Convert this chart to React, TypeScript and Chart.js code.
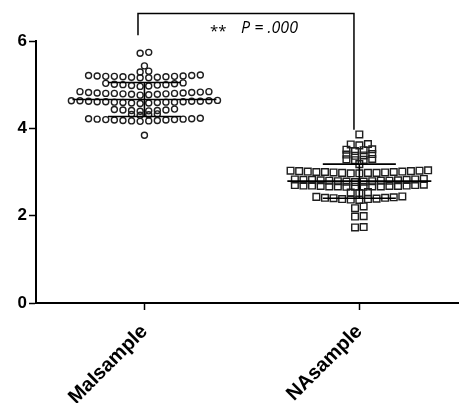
import React, { useEffect, useRef } from "react";
import { Chart, registerables } from "chart.js";

Chart.register(...registerables);

// ---- data ----
const categories = ["MaIsample", "NAsample"];
const yTicks = [0, 2, 4, 6];

const maiValues = [
  5.72, 5.74,
  5.43, 5.31, 5.29,
  5.21, 5.19, 5.18, 5.2, 5.17, 5.16, 5.19, 5.22, 5.18, 5.17, 5.2, 5.21, 5.16, 5.19,
  5.02, 5.0, 4.98, 5.03, 4.99, 5.01, 4.97, 5.04, 4.96, 5.0,
  4.84, 4.82, 4.8, 4.79, 4.78, 4.81, 4.77, 4.8, 4.79, 4.83, 4.78, 4.76, 4.81, 4.82, 4.8, 4.84,
  4.63, 4.62, 4.6, 4.61, 4.59, 4.62, 4.58, 4.63, 4.6, 4.61, 4.59, 4.64, 4.57, 4.62, 4.6, 4.61, 4.63, 4.58,
  4.42, 4.41, 4.43, 4.4, 4.42, 4.39, 4.44, 4.41,
  4.33, 4.32, 4.31, 4.3,
  4.22, 4.21, 4.19, 4.18, 4.2, 4.17, 4.23, 4.16, 4.21, 4.19, 4.22, 4.18, 4.2, 4.17,
  3.84,
];

const naValues = [
  3.86,
  3.64, 3.63, 3.61,
  3.52, 3.5, 3.48, 3.51,
  3.38, 3.4, 3.37, 3.41,
  3.28, 3.3, 3.27, 3.29,
  3.18,
  3.0, 2.98, 3.01, 2.99, 3.02, 2.97, 3.03, 2.98, 3.0, 3.01, 2.99, 3.04, 2.97, 3.02, 3.0, 2.98, 3.03,
  2.82, 2.8, 2.79, 2.83, 2.81, 2.78, 2.84, 2.8, 2.82, 2.79, 2.81, 2.83, 2.77, 2.8, 2.82, 2.78,
  2.68, 2.67, 2.69, 2.66, 2.7, 2.67, 2.68, 2.71, 2.66, 2.69, 2.67, 2.7, 2.68, 2.66, 2.69, 2.67,
  2.53, 2.54, 2.52,
  2.43, 2.41, 2.38, 2.36, 2.4, 2.42, 2.37, 2.39, 2.41, 2.44, 2.38,
  2.21, 2.17,
  1.98, 1.99,
  1.74, 1.73,
];

const means = [4.66, 2.79];
const sds = [0.39, 0.39];

const starLabel = "**";
const pLabel = "P = .000";
const bracketTop = 6.63;
const bracketLeftEnd = 6.13;
const bracketRightEnd = 3.97;

// ---- layout helpers ----
const SPREAD = 0.04; // horizontal spacing between points of one row (x units)

function swarm(values: number[], center: number) {
  const groups = new Map<number, number[]>();
  values.forEach((v) => {
    const k = Math.round(v * 10);
    if (!groups.has(k)) groups.set(k, []);
    groups.get(k)!.push(v);
  });
  const pts: { x: number; y: number }[] = [];
  groups.forEach((vs) => {
    const sorted = [...vs].sort((a, b) => a - b);
    const n = sorted.length;
    const slots = Array.from({ length: n }, (_, i) => (i - (n - 1) / 2) * SPREAD);
    slots.sort((a, b) => Math.abs(a) - Math.abs(b) || a - b);
    sorted.forEach((v, i) => pts.push({ x: center + slots[i], y: v }));
  });
  return pts;
}

const FONT = "'Liberation Sans', Arial, sans-serif";

const overlayPlugin = {
  id: "overlay",
  afterDatasetsDraw(chart: any) {
    const { ctx, scales } = chart;
    const x = scales.x;
    const y = scales.y;
    ctx.save();
    ctx.strokeStyle = "#000";
    ctx.lineWidth = 1.6;
    const seg = (x1: number, y1: number, x2: number, y2: number) => {
      ctx.beginPath();
      ctx.moveTo(x1, y1);
      ctx.lineTo(x2, y2);
      ctx.stroke();
    };
    means.forEach((m, i) => {
      const c = i + 1;
      const sd = sds[i];
      const ym = y.getPixelForValue(m);
      const yu = y.getPixelForValue(m + sd);
      const yl = y.getPixelForValue(m - sd);
      seg(x.getPixelForValue(c - 0.335), ym, x.getPixelForValue(c + 0.335), ym);
      seg(x.getPixelForValue(c - 0.17), yu, x.getPixelForValue(c + 0.17), yu);
      seg(x.getPixelForValue(c - 0.17), yl, x.getPixelForValue(c + 0.17), yl);
      seg(x.getPixelForValue(c), yu, x.getPixelForValue(c), yl);
    });

    // significance bracket
    const lx = x.getPixelForValue(0.97);
    const rx = x.getPixelForValue(1.975);
    const ty = y.getPixelForValue(bracketTop);
    ctx.lineWidth = 1.5;
    ctx.beginPath();
    ctx.moveTo(lx, y.getPixelForValue(bracketLeftEnd));
    ctx.lineTo(lx, ty);
    ctx.lineTo(rx, ty);
    ctx.lineTo(rx, y.getPixelForValue(bracketRightEnd));
    ctx.stroke();

    const mid = (lx + rx) / 2;
    ctx.fillStyle = "#000";
    ctx.textBaseline = "alphabetic";
    ctx.textAlign = "left";
    ctx.font = "15px 'Open Sans', sans-serif";
    ctx.fillText(starLabel, mid - 36, ty + 23);
    ctx.font = "italic 16px 'Open Sans', sans-serif";
    ctx.fillText(pLabel, mid - 5, ty + 20);
    ctx.restore();
  },
};

export default function App() {
  const ref = useRef<HTMLCanvasElement | null>(null);

  useEffect(() => {
    const canvas = ref.current;
    if (!canvas) return;
    const chart = new Chart(canvas, {
      type: "scatter",
      data: {
        datasets: [
          {
            data: swarm(maiValues, 1),
            pointStyle: "circle",
            pointRadius: 3,
            borderColor: "#1e1e1e",
            backgroundColor: "rgba(255,255,255,0)",
            borderWidth: 1.4,
          },
          {
            data: swarm(naValues, 2),
            pointStyle: "rect",
            pointRadius: 4.7,
            borderColor: "#1e1e1e",
            backgroundColor: "rgba(255,255,255,0)",
            borderWidth: 1.4,
          },
        ],
      },
      options: {
        animation: false,
        responsive: false,
        devicePixelRatio: 1,
        layout: { padding: { top: 41, left: 0, right: 0, bottom: 0 } },
        plugins: { legend: { display: false }, tooltip: { enabled: false } },
        scales: {
          x: {
            type: "linear",
            min: 0.4954,
            max: 2.4633,
            afterBuildTicks: (s: any) => {
              s.ticks = categories.map((_, i) => ({ value: i + 1 }));
            },
            afterFit: (s: any) => {
              s.height = 100;
            },
            border: { display: true, color: "#000", width: 2 },
            grid: {
              display: true,
              drawOnChartArea: false,
              drawTicks: true,
              tickLength: 7,
              tickColor: "#000",
              tickWidth: 1.5,
            },
            ticks: {
              autoSkip: false,
              maxRotation: 45,
              minRotation: 45,
              padding: 10,
              color: "#000",
              font: { family: FONT, size: 20, weight: "bold" },
              callback: (v: any) => categories[Math.round(v) - 1] ?? "",
            },
          },
          y: {
            min: 0,
            max: 6,
            afterBuildTicks: (s: any) => {
              s.ticks = yTicks.map((v) => ({ value: v }));
            },
            afterFit: (s: any) => {
              s.width = 36;
            },
            border: { display: true, color: "#000", width: 2 },
            grid: {
              display: true,
              drawOnChartArea: false,
              drawTicks: true,
              tickLength: 7,
              tickColor: "#000",
              tickWidth: 1.5,
            },
            ticks: {
              padding: 2,
              color: "#000",
              font: { family: FONT, size: 17, weight: "bold" },
            },
          },
        },
      },
      plugins: [overlayPlugin],
    } as any);
    return () => chart.destroy();
  }, []);

  return (
    <div style={{ position: "absolute", left: 0, top: 0, width: 465, height: 403, background: "#fff" }}>
      <canvas ref={ref} width={465} height={403} style={{ display: "block" }} />
    </div>
  );
}
